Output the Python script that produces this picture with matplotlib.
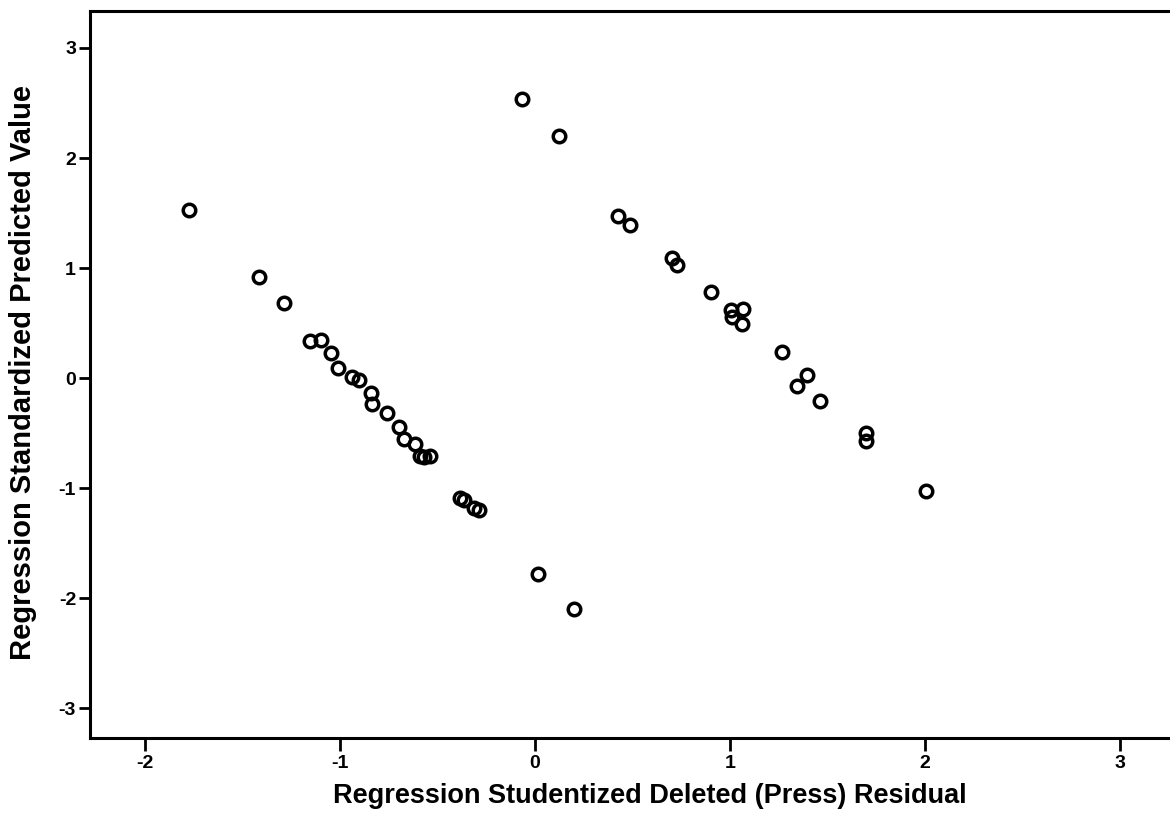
import matplotlib
matplotlib.use("Agg")
import matplotlib.pyplot as plt

plt.rcParams['font.family'] = ['Liberation Sans', 'DejaVu Sans']

# Studentized deleted residual (x) vs standardized predicted value (y)
resid_left = [-1.774, -1.415, -1.287, -1.154, -1.097, -1.046, -1.010, -0.938, -0.903,
              -0.841, -0.836, -0.759, -0.697, -0.672, -0.615, -0.590, -0.569, -0.538,
              -0.385, -0.364, -0.313, -0.287, 0.015, 0.200]
pred_left = [1.527, 0.918, 0.680, 0.336, 0.345, 0.227, 0.090, 0.010, -0.020,
             -0.136, -0.236, -0.318, -0.445, -0.555, -0.600, -0.710, -0.718, -0.710,
             -1.090, -1.110, -1.180, -1.200, -1.780, -2.100]
resid_right = [-0.067, 0.123, 0.426, 0.487, 0.703, 0.728, 0.903, 1.005, 1.010, 1.067,
               1.062, 1.267, 1.344, 1.395, 1.462, 1.697, 1.697, 2.005]
pred_right = [2.536, 2.200, 1.470, 1.390, 1.090, 1.030, 0.780, 0.620, 0.555, 0.627,
              0.490, 0.236, -0.070, 0.027, -0.210, -0.500, -0.573, -1.030]

x_ticks = [-2, -1, 0, 1, 2, 3]
y_ticks = [-3, -2, -1, 0, 1, 2, 3]
x_label = "Regression Studentized Deleted (Press) Residual"
y_label = "Regression Standardized Predicted Value"

fig = plt.figure(figsize=(11.70, 8.27), dpi=100)
ax = fig.add_axes([0.0769, 0.1076, 0.9231, 0.8791])

xs = resid_left + resid_right
ys = pred_left + pred_right
ax.plot(xs, ys, linestyle='none', marker='o', markersize=9,
        markerfacecolor='none', markeredgecolor='black', markeredgewidth=2.5)

ax.set_xlim(-2.28, 3.256)
ax.set_ylim(-3.27, 3.336)
ax.set_xticks(x_ticks)
ax.set_yticks(y_ticks)
ax.set_xticklabels([str(t) for t in x_ticks], fontsize=14, fontweight='bold')
ax.set_yticklabels([str(t) for t in y_ticks], fontsize=14, fontweight='bold')
ax.tick_params(axis='x', direction='out', length=9, width=2.0, pad=3)
ax.tick_params(axis='y', direction='out', length=8, width=2.0, pad=2)

for side in ['left', 'bottom', 'top']:
    ax.spines[side].set_linewidth(2.2)
ax.spines['right'].set_visible(False)

ax.set_xlabel(x_label, fontsize=19.5, fontweight='bold')
ax.set_ylabel(y_label, fontsize=21, fontweight='bold')
ax.xaxis.set_label_coords(0.5185, -0.062)
ax.yaxis.set_label_coords(-0.049, 0.503)

fig.savefig("out.png", dpi=100)
